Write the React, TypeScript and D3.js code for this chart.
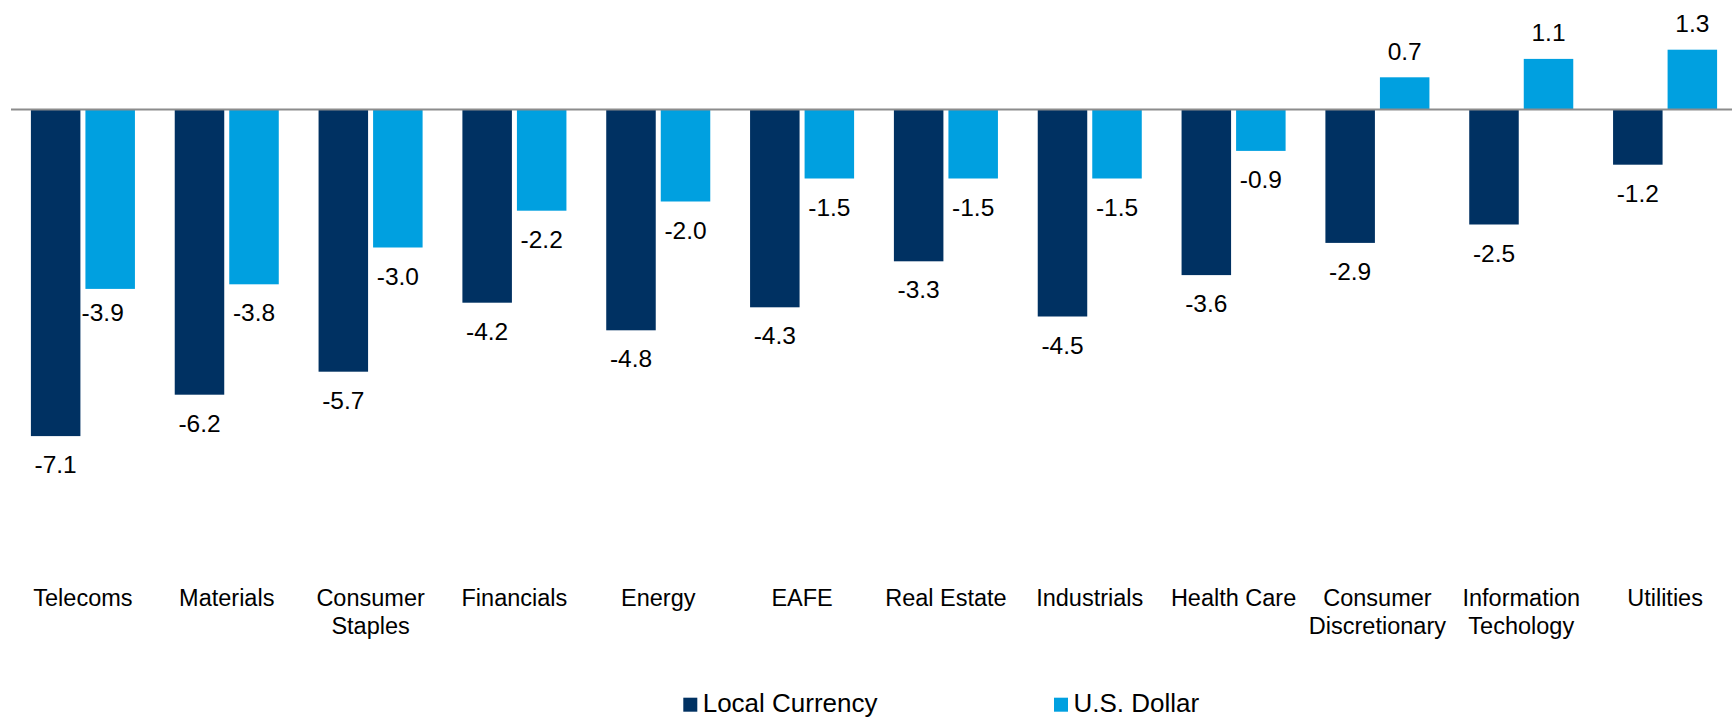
import React from "react";
import * as d3 from "d3";

const categories = [
  "Telecoms",
  "Materials",
  "Consumer\nStaples",
  "Financials",
  "Energy",
  "EAFE",
  "Real Estate",
  "Industrials",
  "Health Care",
  "Consumer\nDiscretionary",
  "Information\nTechology",
  "Utilities",
];
const seriesNames = ["Local Currency", "U.S. Dollar"];
const localCurrency = [-7.1, -6.2, -5.7, -4.2, -4.8, -4.3, -3.3, -4.5, -3.6, -2.9, -2.5, -1.2];
const usDollar = [-3.9, -3.8, -3.0, -2.2, -2.0, -1.5, -1.5, -1.5, -0.9, 0.7, 1.1, 1.3];
const colors = ["#003162", "#00A0E0"];

const W = 1732;
const H = 718;
const FONT = "'Liberation Sans', Arial, Helvetica, sans-serif";

export default function App() {
  const x = d3.scaleBand<string>().domain(categories).range([11, 1737]).paddingInner(0).paddingOuter(0);
  const x1 = d3
    .scaleBand<string>()
    .domain(seriesNames)
    .range([0, x.bandwidth()])
    .paddingInner(0.092)
    .paddingOuter(0.365);
  const y = d3.scaleLinear().domain([-9, 2]).range([109.5 + 9 * 46, 109.5 - 2 * 46]);
  const values = [localCurrency, usDollar];
  const fmt = d3.format(".1f");

  const bars: React.ReactNode[] = [];
  const labels: React.ReactNode[] = [];
  categories.forEach((c, i) => {
    seriesNames.forEach((s, j) => {
      const v = values[j][i];
      const bx = (x(c) as number) + (x1(s) as number);
      const bw = x1.bandwidth();
      const y0 = y(0);
      const yv = y(v);
      bars.push(
        <rect
          key={`b-${i}-${j}`}
          x={bx}
          y={Math.min(y0, yv)}
          width={bw}
          height={Math.abs(yv - y0)}
          fill={colors[j]}
        />
      );
      let lx = bx + bw / 2;
      let ly = v < 0 ? yv + 37 : yv - 17.5;
      if (i === 0 && j === 1) {
        lx -= 7.5;
        ly -= 4.5;
      }
      labels.push(
        <text
          key={`l-${i}-${j}`}
          x={lx}
          y={ly}
          textAnchor="middle"
          fontSize={24.5}
          fontFamily={FONT}
          fill="#000"
        >
          {v < 0 ? "-" + fmt(Math.abs(v)) : fmt(v)}
        </text>
      );
    });
  });

  const legendX = [683.3, 1054];

  return (
    <svg
      width={W}
      height={H}
      style={{ position: "absolute", left: 0, top: 0, background: "#fff" }}
    >
      <rect x={0} y={0} width={W} height={H} fill="#fff" />
      {bars}
      <line x1={11} x2={W} y1={y(0)} y2={y(0)} stroke="#8C8C8C" strokeWidth={2} />
      {labels}
      {categories.map((c) => {
        const lines = c.split("\n");
        const cx = (x(c) as number) + x.bandwidth() / 2;
        return (
          <text key={c} textAnchor="middle" fontSize={23.5} fontFamily={FONT} fill="#000">
            {lines.map((ln, k) => (
              <tspan key={k} x={cx} y={605.7 + k * 28.6}>
                {ln}
              </tspan>
            ))}
          </text>
        );
      })}
      {seriesNames.map((s, j) => (
        <g key={s}>
          <rect x={legendX[j]} y={697.7} width={14} height={14} fill={colors[j]} />
          <text x={legendX[j] + 19.4} y={712.3} fontSize={26} fontFamily={FONT} fill="#000">
            {s}
          </text>
        </g>
      ))}
    </svg>
  );
}
